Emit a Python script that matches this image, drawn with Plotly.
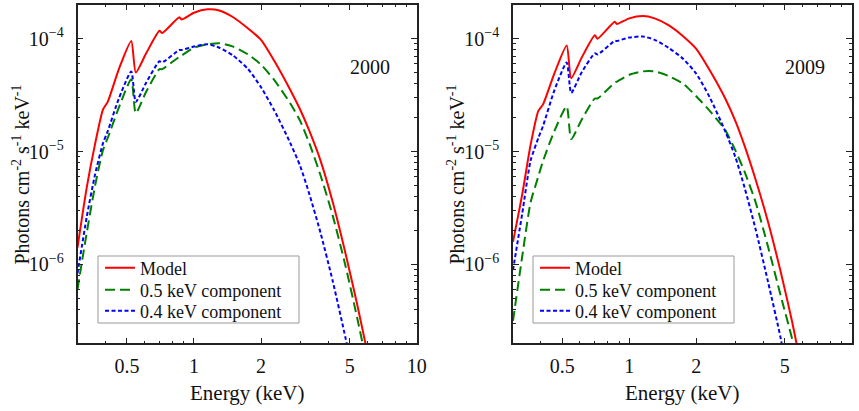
import math
import plotly.graph_objects as go

# ---------------- data ----------------
energy_kev = [0.30, 0.33, 0.36, 0.39, 0.41, 0.46, 0.523, 0.548, 0.61, 0.70, 0.72,
              0.86, 0.88, 1.0, 1.15, 1.3, 1.5, 1.75, 2.0, 2.3, 2.7, 3.0, 3.3,
              3.7, 4.2, 4.8, 5.4, 6.0, 6.5]

# log10(photons cm^-2 s^-1 keV^-1)
model_2000 = [-5.85, -5.32, -4.93, -4.63, -4.56, -4.27, -4.02, -4.30, -4.13, -3.93, -3.95,
              -3.81, -3.83, -3.77, -3.74, -3.75, -3.81, -3.91, -4.01, -4.20, -4.45, -4.63, -4.82,
              -5.08, -5.45, -5.91, -6.35, -6.78, -7.14]
comp05_2000 = [-6.22, -5.72, -5.30, -4.99, -4.88, -4.61, -4.36, -4.66, -4.47, -4.27, -4.27,
               -4.16, -4.15, -4.08, -4.05, -4.04, -4.07, -4.14, -4.23, -4.37, -4.57, -4.73, -4.93,
               -5.21, -5.57, -6.02, -6.47, -6.90, -7.25]
comp04_2000 = [-6.08, -5.58, -5.20, -4.93, -4.82, -4.53, -4.29, -4.56, -4.39, -4.20, -4.21,
               -4.10, -4.10, -4.07, -4.05, -4.08, -4.15, -4.27, -4.43, -4.64, -4.92, -5.13, -5.38,
               -5.72, -6.15, -6.66, -7.17, -7.68, -8.10]

model_2009 = [-5.80, -5.38, -4.94, -4.64, -4.58, -4.31, -4.06, -4.35, -4.17, -3.97, -4.00,
              -3.85, -3.87, -3.82, -3.80, -3.82, -3.88, -3.98, -4.09, -4.28, -4.53, -4.73, -4.95,
              -5.25, -5.62, -6.07, -6.51, -6.96, -7.33]
comp05_2009 = [-6.50, -5.93, -5.45, -5.22, -5.08, -4.82, -4.60, -4.89, -4.72, -4.53, -4.53,
               -4.39, -4.38, -4.32, -4.29, -4.29, -4.33, -4.40, -4.51, -4.64, -4.81, -4.99, -5.18,
               -5.45, -5.84, -6.28, -6.66, -7.03, -7.40]
comp04_2009 = [-6.05, -5.55, -5.08, -4.88, -4.77, -4.46, -4.21, -4.48, -4.30, -4.13, -4.14,
               -4.02, -4.02, -3.99, -3.98, -4.01, -4.08, -4.18, -4.31, -4.52, -4.82, -5.05, -5.32,
               -5.69, -6.15, -6.66, -7.22, -7.75, -8.20]

panel_labels = ["2000", "2009"]
series_names = ["Model", "0.5 keV component", "0.4 keV component"]
x_tick_vals = [0.5, 1, 2, 5, 10]
x_tick_text = ["0.5", "1", "2", "5", "10"]
x_minor_vals = [0.3, 0.4, 0.6, 0.7, 0.8, 0.9, 3, 4, 6, 7, 8, 9]
y_tick_vals = [1e-6, 1e-5, 1e-4]
y_tick_text = ["10<sup>−6</sup>", "10<sup>−5</sup>", "10<sup>−4</sup>"]
y_minor_vals = [m * 10.0 ** e for e in (-7, -6, -5, -4) for m in range(2, 10)]

# ---------------- figure ----------------
W, H = 859, 411
FONT = "Liberation Serif"
colors = ["#ff0000", "#008000", "#0000ff"]
dashes = ["solid", "10px,5px", "4px,2.5px"]

panels = [(model_2000, comp05_2000, comp04_2000), (model_2009, comp05_2009, comp04_2009)]

px_x = lambda v: v / W
px_y = lambda v: 1 - v / H

x_domains = [[px_x(77.5), px_x(416.7)], [px_x(513), px_x(851.7)]]
y_domain = [px_y(343.3), px_y(4.7)]
legend_left = [100, 535]
legend_rows = [268, 290, 311]
legend_box = [(98, 299), (533, 734)]

fig = go.Figure()
legend_layout = {}
for p, series in enumerate(panels):
    xa = "x" if p == 0 else "x2"
    ya = "y" if p == 0 else "y2"
    for s, vals in enumerate(series):
        k = p * 3 + s + 1
        lg = "legend" if k == 1 else "legend%d" % k
        fig.add_trace(go.Scatter(
            x=energy_kev, y=[10.0 ** v for v in vals], mode="lines",
            name=series_names[s], xaxis=xa, yaxis=ya, legend=lg,
            line=dict(color=colors[s], width=2, dash=dashes[s], shape="spline", smoothing=0.6),
            hoverinfo="skip"))
        legend_layout[lg] = dict(bgcolor="rgba(0,0,0,0)", borderwidth=0,
                                 font=dict(family=FONT, size=18, color="#111"),
                                 xanchor="left", yanchor="middle", itemwidth=30,
                                 x=px_x(legend_left[p]), y=px_y(legend_rows[s]))
    fig.add_shape(type="rect", xref="paper", yref="paper",
                  x0=px_x(legend_box[p][0]), x1=px_x(legend_box[p][1]),
                  y0=px_y(323), y1=px_y(256), layer="above",
                  fillcolor="white", line=dict(color="#999", width=1))

common_x = dict(type="log", range=[math.log10(0.3), 1], showgrid=False, zeroline=False,
                showline=True, linecolor="#222", linewidth=1.5, mirror="allticks",
                ticks="inside", ticklen=6, tickwidth=1, tickcolor="#222",
                tickvals=x_tick_vals, ticktext=x_tick_text,
                tickfont=dict(family=FONT, size=20, color="#111"),
                minor=dict(tickvals=x_minor_vals, ticks="inside", ticklen=3,
                           tickcolor="#222", tickwidth=1),
                automargin=False, ticklabelstandoff=4)
common_y = dict(type="log", range=[math.log10(2e-7), math.log10(2e-4)], showgrid=False,
                zeroline=False, showline=True, linecolor="#222", linewidth=1.5,
                mirror="allticks", ticks="inside", ticklen=6, tickwidth=1, tickcolor="#222",
                tickvals=y_tick_vals, ticktext=y_tick_text,
                tickfont=dict(family=FONT, size=20, color="#111"),
                minor=dict(tickvals=y_minor_vals, ticks="inside", ticklen=3,
                           tickcolor="#222", tickwidth=1),
                automargin=False, domain=y_domain, ticklabelstandoff=8)

fig.update_layout(
    width=W, height=H, margin=dict(l=0, r=0, t=0, b=0),
    paper_bgcolor="white", plot_bgcolor="white",
    font=dict(family=FONT, size=18, color="#111"),
    xaxis=dict(common_x, domain=x_domains[0], anchor="y"),
    yaxis=dict(common_y, anchor="x"),
    xaxis2=dict(common_x, domain=x_domains[1], anchor="y2"),
    yaxis2=dict(common_y, anchor="x2"),
    showlegend=True,
    **legend_layout,
)

annotations = []
ytitle = "Photons cm<sup>-2</sup> s<sup>-1</sup> keV<sup>-1</sup>"
for p in range(2):
    xc = (x_domains[p][0] + x_domains[p][1]) / 2
    annotations.append(dict(text="Energy (keV)", xref="paper", yref="paper",
                            x=xc, y=px_y(393), xanchor="center", yanchor="middle",
                            showarrow=False, font=dict(family=FONT, size=21, color="#111")))
    annotations.append(dict(text=ytitle, xref="paper", yref="paper",
                            x=px_x(20 if p == 0 else 455), y=px_y(174.5), textangle=-90,
                            xanchor="center", yanchor="middle", showarrow=False,
                            font=dict(family=FONT, size=20, color="#111")))
    annotations.append(dict(text=panel_labels[p], xref="paper", yref="paper",
                            x=px_x(370 if p == 0 else 805), y=px_y(67),
                            xanchor="center", yanchor="middle", showarrow=False,
                            font=dict(family=FONT, size=20, color="#111")))
fig.update_layout(annotations=annotations)

fig.write_html("out.html", config={"displayModeBar": False},
               post_script="document.body.style.margin='0';document.body.style.overflow='hidden';")
